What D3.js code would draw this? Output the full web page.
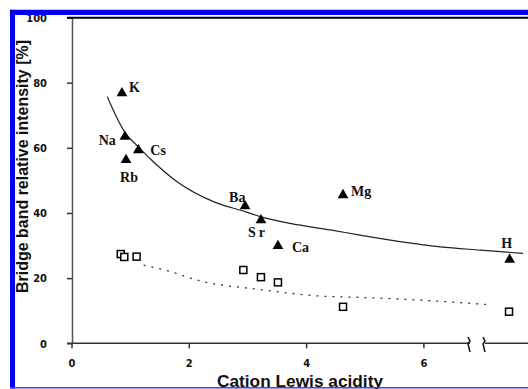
<!DOCTYPE html>
<html>
<head>
<meta charset="utf-8">
<script src="https://cdn.jsdelivr.net/npm/d3@7"></script>
<style>
  html, body { margin: 0; padding: 0; background: #fff; }
  svg { display: block; }
  .tick-label { font-family: "Liberation Sans Narrow", "DejaVu Sans Condensed", "Liberation Sans", sans-serif; font-weight: bold; font-size: 11px; fill: #111; }
  .pt-label { font-family: "Liberation Serif", "DejaVu Serif", serif; font-weight: bold; font-size: 14px; fill: #111; }
  .title { font-family: "Liberation Sans", Arial, sans-serif; font-weight: bold; fill: #111; }
</style>
</head>
<body>
<div id="chart"></div>
<script>
// cations (triangles)
var cations = ["K", "Na", "Cs", "Rb", "Ba", "Sr", "Ca", "Mg", "H"];
var acidity = [0.86, 0.91, 1.14, 0.93, 2.96, 3.23, 3.52, 4.63, 7.47];
var bridgeIntensity = [76.8, 63.4, 59.3, 56.3, 42.1, 37.8, 29.9, 45.5, 25.7];

// second series (open squares)
var sqAcidity = [0.84, 0.90, 1.11, 2.93, 3.23, 3.52, 4.63, 7.46];
var sqIntensity = [27.4, 26.5, 26.6, 22.5, 20.3, 18.7, 11.2, 9.7];

// fitted trend lines
var fitX = [0.61, 0.92, 1.14, 1.35, 1.8, 2.42, 2.96, 3.22, 3.73, 4.41, 4.92, 5.6, 6.29, 6.97, 7.7];
var fitY = [75.7, 64.5, 60.3, 56.5, 49.6, 43.5, 40.4, 38.9, 36.8, 34.8, 33.2, 31.2, 29.6, 28.6, 27.6];
var fit2X = [1.23, 1.69, 2.14, 3.27, 4.24, 4.92, 5.89, 7.17];
var fit2Y = [24.0, 22.0, 19.4, 16.4, 14.5, 14.1, 13.3, 11.8];

var xTicks = [0, 2, 4, 6];
var yTicks = [0, 20, 40, 60, 80, 100];

// label placement around each triangle
var labelOffsets = {
  K: [7, -1, "start"], Na: [-9, 8, "end"], Cs: [12, 5, "start"], Rb: [-6, 22, "start"],
  Ba: [-16, -4, "start"], Sr: [-13, 17, "start"], Ca: [14, 6, "start"], Mg: [8, 1, "start"],
  H: [-3, -12, "middle"]
};

var W = 528, H = 389;
var svg = d3.select("#chart").append("svg").attr("width", W).attr("height", H);

var x = d3.scaleLinear().domain([0, 8]).range([71.5, 71.5 + 8 * 58.65]);
var y = d3.scaleLinear().domain([0, 100]).range([343.3, 17.5]);

// y axis
var yAxis = svg.append("g")
  .attr("transform", "translate(72,0)")
  .call(d3.axisLeft(y).tickValues(yTicks).tickSize(5).tickPadding(20).tickSizeOuter(0));
yAxis.select(".domain").attr("stroke", "#555").attr("stroke-width", 1.5);
yAxis.selectAll(".tick line").attr("stroke", "#333").attr("stroke-width", 1.5);
yAxis.selectAll(".tick text").attr("class", "tick-label").attr("dy", "0.35em");

// x axis (two pieces because of the break)
var xAxis = svg.append("g")
  .attr("transform", "translate(0,343.3)")
  .call(d3.axisBottom(x).tickValues(xTicks).tickSize(5).tickPadding(11).tickSizeOuter(0));
xAxis.select(".domain").remove();
xAxis.selectAll(".tick line").attr("stroke", "#333").attr("stroke-width", 1.5);
xAxis.selectAll(".tick text").attr("class", "tick-label");
svg.append("line").attr("x1", 67).attr("x2", 470).attr("y1", 343.3).attr("y2", 343.3)
  .attr("stroke", "#333").attr("stroke-width", 1.5);
svg.append("line").attr("x1", 485).attr("x2", W).attr("y1", 343.3).attr("y2", 343.3)
  .attr("stroke", "#333").attr("stroke-width", 1.5);
// break marks
[468, 483].forEach(function (bx) {
  svg.append("path")
    .attr("d", "M" + bx + ",337 l2,4 l-2,3 l2,8")
    .attr("fill", "none").attr("stroke", "#111").attr("stroke-width", 1.5);
});

// top frame line
svg.append("line").attr("x1", 67).attr("x2", W).attr("y1", 17.8).attr("y2", 17.8)
  .attr("stroke", "#000").attr("stroke-width", 2);

// fit lines
var line = d3.line().x(function (d) { return x(d[0]); }).y(function (d) { return y(d[1]); })
  .curve(d3.curveMonotoneX);
svg.append("path").datum(d3.zip(fitX, fitY)).attr("d", line)
  .attr("fill", "none").attr("stroke", "#222").attr("stroke-width", 1.2);
svg.append("path").datum(d3.zip(fit2X, fit2Y)).attr("d", line)
  .attr("fill", "none").attr("stroke", "#333").attr("stroke-width", 1.3)
  .attr("stroke-dasharray", "2,6");

// open squares
svg.selectAll("rect.sq").data(d3.zip(sqAcidity, sqIntensity)).enter().append("rect")
  .attr("class", "sq")
  .attr("x", function (d) { return x(d[0]) - 3.5; })
  .attr("y", function (d) { return y(d[1]) - 3.5; })
  .attr("width", 7).attr("height", 7)
  .attr("fill", "#fff").attr("stroke", "#000").attr("stroke-width", 1.5);

// triangles
var tri = d3.symbol().type(d3.symbolTriangle).size(50);
var cat = cations.map(function (c, i) { return { name: c, ax: acidity[i], v: bridgeIntensity[i] }; });
svg.selectAll("path.tri").data(cat).enter().append("path")
  .attr("class", "tri")
  .attr("d", tri)
  .attr("transform", function (d) { return "translate(" + x(d.ax) + "," + y(d.v) + ")"; })
  .attr("fill", "#000");

svg.selectAll("text.pt-label").data(cat).enter().append("text")
  .attr("class", "pt-label")
  .attr("x", function (d) { return x(d.ax) + labelOffsets[d.name][0]; })
  .attr("y", function (d) { return y(d.v) + labelOffsets[d.name][1]; })
  .attr("text-anchor", function (d) { return labelOffsets[d.name][2]; })
  .style("letter-spacing", function (d) { return d.name === "Sr" ? "3px" : null; })
  .text(function (d) { return d.name; });

// axis titles
svg.append("text").attr("class", "title")
  .attr("transform", "translate(28,293) rotate(-90)")
  .attr("font-size", 16)
  .attr("textLength", 253).attr("lengthAdjust", "spacingAndGlyphs")
  .text("Bridge band relative intensity [%]");
svg.append("text").attr("class", "title")
  .attr("x", 217).attr("y", 386.5)
  .attr("font-size", 17)
  .attr("textLength", 166).attr("lengthAdjust", "spacingAndGlyphs")
  .text("Cation Lewis acidity");

// blue page border
svg.append("rect").attr("x", 10).attr("y", 9.5).attr("width", W - 10).attr("height", 5.5).attr("fill", "#0000ff");
svg.append("rect").attr("x", 10).attr("y", 9.5).attr("width", 5).attr("height", 379).attr("fill", "#0000ff");
svg.append("rect").attr("x", 10).attr("y", 0).attr("width", W - 10).attr("height", 9.5).attr("fill", "#fff");
svg.append("rect").attr("x", 0).attr("y", 0).attr("width", 10).attr("height", H).attr("fill", "#fff");
svg.append("line").attr("x1", 10).attr("x2", W).attr("y1", 387.8).attr("y2", 387.8)
  .attr("stroke", "#4040ff").attr("stroke-width", 1.5);
</script>
</body>
</html>
